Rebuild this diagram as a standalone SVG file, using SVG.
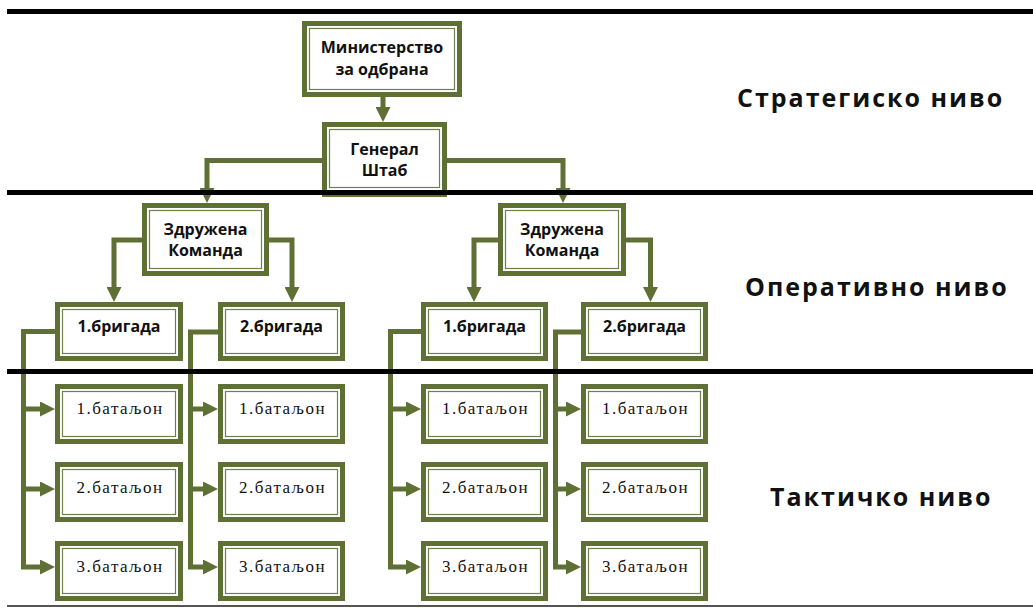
<svg xmlns="http://www.w3.org/2000/svg" width="1033" height="608" viewBox="0 0 1033 608">
<style>
.bo{fill:#fff;stroke:#5f7034;stroke-width:5}
.bi{fill:none;stroke:#6f8046;stroke-width:1.2}
.t{font-family:"Open Sans","Liberation Sans",sans-serif;font-weight:700;font-size:16px;fill:#111;text-anchor:middle}
.s{font-family:"Liberation Serif","Times New Roman",serif;font-size:17px;letter-spacing:1.5px;fill:#111;text-anchor:middle}
.lv{font-family:"Open Sans","Liberation Sans",sans-serif;font-weight:700;font-size:25px;letter-spacing:2px;fill:#111}
.c{fill:none;stroke:#5f7034;stroke-width:5;stroke-linejoin:miter;marker-end:url(#ah)}
.cn{fill:none;stroke:#5f7034;stroke-width:5}
.hl{stroke:#000;stroke-width:5}
</style>
<defs>
<marker id="ah" viewBox="0 0 15 15" refX="0" refY="7.5" markerWidth="15" markerHeight="15" markerUnits="userSpaceOnUse" orient="auto">
<path d="M0,0 L15,7.5 L0,15 z" fill="#5f7034"/>
</marker>
</defs>
<rect width="1033" height="608" fill="#fff"/>
<g id="connectors">
<path class="c" d="M383,97 V107"/>
<path class="c" d="M322,160.5 H207 V188"/>
<path class="c" d="M447,160.5 H563 V188"/>
<path class="c" d="M142,240 H114 V287"/>
<path class="c" d="M269,240 H292 V287"/>
<path class="c" d="M498,240 H474 V287"/>
<path class="c" d="M626,240 H650.5 V287"/>
<path class="c" d="M55,331.5 H23.5 V567 H40"/>
<path class="c" d="M23.5,409 H40"/>
<path class="c" d="M23.5,489 H40"/>
<path class="c" d="M218,332 H190.5 V567 H203"/>
<path class="c" d="M190.5,409 H203"/>
<path class="c" d="M190.5,489 H203"/>
<path class="c" d="M421,331.5 H390.5 V567 H406"/>
<path class="c" d="M390.5,409 H406"/>
<path class="c" d="M390.5,489 H406"/>
<path class="c" d="M581,332 H555.5 V567 H566"/>
<path class="c" d="M555.5,409 H566"/>
<path class="c" d="M555.5,489 H566"/>
</g>
<g id="n-ministerstvo"><rect class="bo" x="304.5" y="23.5" width="155" height="71"/><rect class="bi" x="309.5" y="28.5" width="145" height="61"/><text class="t" x="382" y="53">Министерство</text><text class="t" x="382" y="75">за одбрана</text></g>
<g id="n-generalstab"><rect class="bo" x="324.5" y="124.5" width="120" height="70"/><rect class="bi" x="329.5" y="129.5" width="110" height="58"/><text class="t" x="384.5" y="155">Генерал</text><text class="t" x="384.5" y="176">Штаб</text></g>
<g id="n-zk1"><rect class="bo" x="144.5" y="205.5" width="122" height="68"/><rect class="bi" x="149.5" y="210.5" width="112" height="58"/><text class="t" x="205.5" y="235">Здружена</text><text class="t" x="205.5" y="256">Команда</text></g>
<g id="n-zk2"><rect class="bo" x="500.5" y="205.5" width="123" height="68"/><rect class="bi" x="505.5" y="210.5" width="113" height="58"/><text class="t" x="562" y="235">Здружена</text><text class="t" x="562" y="256">Команда</text></g>
<g id="n-b1"><rect class="bo" x="57.5" y="304.5" width="123" height="54"/><rect class="bi" x="62.5" y="309.5" width="113" height="44"/><text class="t" x="119" y="332">1.бригада</text></g>
<g id="n-b2"><rect class="bo" x="220.5" y="304.5" width="122" height="54"/><rect class="bi" x="225.5" y="309.5" width="112" height="44"/><text class="t" x="281.5" y="332">2.бригада</text></g>
<g id="n-b3"><rect class="bo" x="423.5" y="304.5" width="122" height="54"/><rect class="bi" x="428.5" y="309.5" width="112" height="44"/><text class="t" x="484.5" y="332">1.бригада</text></g>
<g id="n-b4"><rect class="bo" x="583.5" y="304.5" width="122" height="54"/><rect class="bi" x="588.5" y="309.5" width="112" height="44"/><text class="t" x="644.5" y="332">2.бригада</text></g>
<g id="n-b1-1"><rect class="bo" x="57.5" y="386.5" width="123" height="55"/><rect class="bi" x="62.5" y="391.5" width="113" height="45"/><text class="s" x="120" y="414">1.батаљон</text></g>
<g id="n-b1-2"><rect class="bo" x="57.5" y="464.5" width="123" height="55"/><rect class="bi" x="62.5" y="469.5" width="113" height="45"/><text class="s" x="120" y="493">2.батаљон</text></g>
<g id="n-b1-3"><rect class="bo" x="57.5" y="543.5" width="123" height="55"/><rect class="bi" x="62.5" y="548.5" width="113" height="45"/><text class="s" x="120" y="572">3.батаљон</text></g>
<g id="n-b2-1"><rect class="bo" x="220.5" y="386.5" width="122" height="55"/><rect class="bi" x="225.5" y="391.5" width="112" height="45"/><text class="s" x="282.5" y="414">1.батаљон</text></g>
<g id="n-b2-2"><rect class="bo" x="220.5" y="464.5" width="122" height="55"/><rect class="bi" x="225.5" y="469.5" width="112" height="45"/><text class="s" x="282.5" y="493">2.батаљон</text></g>
<g id="n-b2-3"><rect class="bo" x="220.5" y="543.5" width="122" height="55"/><rect class="bi" x="225.5" y="548.5" width="112" height="45"/><text class="s" x="282.5" y="572">3.батаљон</text></g>
<g id="n-b3-1"><rect class="bo" x="423.5" y="386.5" width="122" height="55"/><rect class="bi" x="428.5" y="391.5" width="112" height="45"/><text class="s" x="485.5" y="414">1.батаљон</text></g>
<g id="n-b3-2"><rect class="bo" x="423.5" y="464.5" width="122" height="55"/><rect class="bi" x="428.5" y="469.5" width="112" height="45"/><text class="s" x="485.5" y="493">2.батаљон</text></g>
<g id="n-b3-3"><rect class="bo" x="423.5" y="543.5" width="122" height="55"/><rect class="bi" x="428.5" y="548.5" width="112" height="45"/><text class="s" x="485.5" y="572">3.батаљон</text></g>
<g id="n-b4-1"><rect class="bo" x="583.5" y="386.5" width="122" height="55"/><rect class="bi" x="588.5" y="391.5" width="112" height="45"/><text class="s" x="645.5" y="414">1.батаљон</text></g>
<g id="n-b4-2"><rect class="bo" x="583.5" y="464.5" width="122" height="55"/><rect class="bi" x="588.5" y="469.5" width="112" height="45"/><text class="s" x="645.5" y="493">2.батаљон</text></g>
<g id="n-b4-3"><rect class="bo" x="583.5" y="543.5" width="122" height="55"/><rect class="bi" x="588.5" y="548.5" width="112" height="45"/><text class="s" x="645.5" y="572">3.батаљон</text></g>
<g id="levels">
<line class="hl" x1="7" y1="11.5" x2="1033" y2="11.5"/>
<line class="hl" x1="7" y1="192.5" x2="1033" y2="192.5"/>
<line class="hl" x1="7" y1="371.5" x2="1033" y2="371.5"/>
<line x1="7" y1="606" x2="1033" y2="606" stroke="#555" stroke-width="2"/>
<text class="lv" x="737" y="107">Стратегиско ниво</text>
<text class="lv" x="745" y="296">Оперативно ниво</text>
<text class="lv" x="770" y="506">Тактичко ниво</text>
</g>
</svg>
